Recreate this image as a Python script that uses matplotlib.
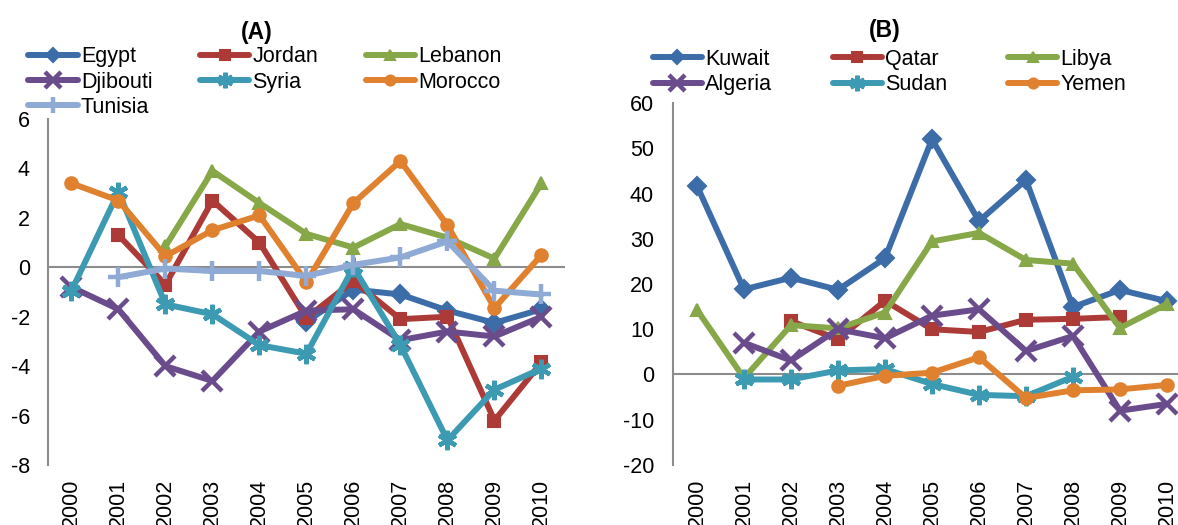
import numpy as np
import matplotlib.pyplot as plt

nan = np.nan
anios = [str(a) for a in range(2000, 2011)]

# Panel (A)
egipto    = [nan, nan, nan, nan, nan, -2.2, -0.9, -1.1, -1.75, -2.25, -1.7]
jordania  = [nan, 1.3, -0.7, 2.7, 1.0, -2.05, -0.55, -2.1, -2.0, -6.2, -3.85]
libano    = [nan, nan, 0.85, 3.9, 2.6, 1.35, 0.8, 1.75, 1.2, 0.35, 3.4]
yibuti    = [-0.8, -1.7, -4.0, -4.6, -2.6, -1.75, -1.7, -2.95, -2.6, -2.8, -2.0]
siria     = [-0.95, 3.05, -1.5, -1.9, -3.15, -3.5, 0.0, -3.15, -7.0, -4.95, -4.1]
marruecos = [3.4, 2.7, 0.45, 1.5, 2.1, -0.6, 2.6, 4.3, 1.7, -1.65, 0.5]
tunez     = [nan, -0.4, -0.05, -0.15, -0.15, -0.35, 0.1, 0.4, 1.05, -0.95, -1.1]

# Panel (B)
kuwait  = [41.7, 18.8, 21.4, 18.7, 25.7, 52.0, 33.9, 43.0, 14.9, 18.7, 16.2]
qatar   = [nan, nan, 11.8, 7.8, 16.3, 10.0, 9.4, 12.1, 12.3, 12.7, nan]
libia   = [14.3, -0.8, 10.9, 10.2, 13.7, 29.4, 31.3, 25.3, 24.5, 10.3, 15.6]
argelia = [nan, 7.0, 3.1, 10.0, 8.0, 13.0, 14.4, 5.2, 8.5, -8.0, -6.5]
sudan   = [nan, -1.1, -1.1, 0.9, 1.2, -2.1, -4.5, -4.8, -0.5, nan, nan]
yemen   = [nan, nan, nan, -2.5, -0.3, 0.4, 3.8, -5.2, -3.5, -3.3, -2.3]

azul = '#3C6DA8'
rojo = '#AC3B38'
verde = '#86A848'
violeta = '#6A4C8C'
celeste = '#3C9AB2'
naranja = '#E0812F'
lila = '#8FAAD4'
asterisco = (6, 2, 0)

series_a = [
    ('Egypt', egipto, azul, 'D'),
    ('Jordan', jordania, rojo, 's'),
    ('Lebanon', libano, verde, '^'),
    ('Djibouti', yibuti, violeta, 'x'),
    ('Syria', siria, celeste, asterisco),
    ('Morocco', marruecos, naranja, 'o'),
    ('Tunisia', tunez, lila, '+'),
]
series_b = [
    ('Kuwait', kuwait, azul, 'D'),
    ('Qatar', qatar, rojo, 's'),
    ('Libya', libia, verde, '^'),
    ('Algeria', argelia, violeta, 'x'),
    ('Sudan', sudan, celeste, asterisco),
    ('Yemen', yemen, naranja, 'o'),
]

plt.rcParams['font.family'] = 'Liberation Sans'
plt.rcParams['font.size'] = 15.5
plt.rcParams['axes.unicode_minus'] = False

fig = plt.figure(figsize=(11.78, 5.25), dpi=100)
ax_a = fig.add_axes([0.0407, 0.1143, 0.4389, 0.659])
ax_b = fig.add_axes([0.5717, 0.1143, 0.4389, 0.6895])

def dibujar(ax, series, ylim, yticks, ypad):
    x = np.arange(len(anios))
    lineas = []
    for nombre, datos, color, marca in series:
        tam = 9
        ancho = 1.5
        if marca in ('x', '+') or marca == asterisco:
            tam = 14
            ancho = 3.2
        l, = ax.plot(x, datos, color=color, lw=4.3, marker=marca, ms=tam,
                     mew=ancho, mec=color, mfc=color, label=nombre,
                     solid_joinstyle='round', solid_capstyle='round')
        lineas.append(l)
    ax.axhline(0, color='#8C8C8C', lw=1.5, zorder=0)
    ax.set_xlim(-0.5, len(anios) - 0.5)
    ax.set_ylim(*ylim)
    ax.set_yticks(yticks)
    ax.set_xticks(x)
    ax.set_xticklabels(anios, rotation=90)
    for lado in ['top', 'right', 'bottom']:
        ax.spines[lado].set_visible(False)
    ax.spines['left'].set_color('#8C8C8C')
    ax.spines['left'].set_linewidth(1.5)
    ax.tick_params(axis='y', length=0, pad=ypad)
    ax.tick_params(axis='x', length=0, pad=10)
    return lineas

la = dibujar(ax_a, series_a, (-8, 6), np.arange(-8, 7, 2), 13)
lb = dibujar(ax_b, series_b, (-20, 60), np.arange(-20, 61, 10), 14)

fig.text(0.218, 0.938, '(A)', ha='center', va='center', fontsize=16.5, fontweight='bold')
fig.text(0.751, 0.942, '(B)', ha='center', va='center', fontsize=16.5, fontweight='bold')

# legend filled row by row, as in the original
orden_a = [la[0], la[3], la[6], la[1], la[4], la[2], la[5]]
orden_b = [lb[0], lb[3], lb[1], lb[4], lb[2], lb[5]]

opciones = dict(loc='upper left', ncol=3, frameon=False, handlelength=2.3,
                handletextpad=0.15, labelspacing=0.2, borderpad=0,
                borderaxespad=0, markerscale=0.8)
fig.legend(handles=orden_a, bbox_to_anchor=(0.0238, 0.912),
           columnspacing=2.2, **opciones)
fig.legend(handles=orden_b, bbox_to_anchor=(0.554, 0.907),
           columnspacing=2.8, **opciones)

plt.savefig('out.png', dpi=100)
